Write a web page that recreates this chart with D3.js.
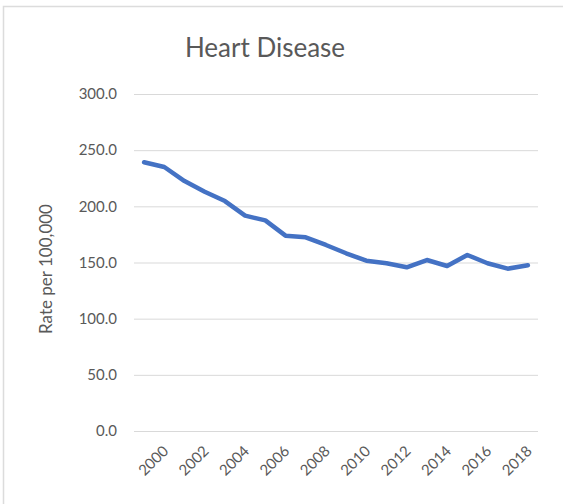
<!DOCTYPE html>
<html>
<head>
  <meta charset="utf-8">
  <script src="https://d3js.org/d3.v7.min.js"></script>
  <style>
    body { margin: 0; background: #fff; }
    text { font-family: Lato, "Open Sans", sans-serif; fill: #595959; }
  </style>
</head>
<body>
  <script type="text/javascript">
    // Chart data
    var years = ["1999", "2000", "2001", "2002", "2003", "2004", "2005", "2006", "2007", "2008",
                 "2009", "2010", "2011", "2012", "2013", "2014", "2015", "2016", "2017", "2018"];
    var rates = [239.2, 235.0, 222.5, 213.0, 204.7, 191.7, 187.5, 173.9, 172.4, 165.6,
                 158.2, 151.6, 149.3, 145.7, 152.2, 146.9, 156.7, 149.3, 144.5, 147.5];
    var yTicks = [0, 50, 100, 150, 200, 250, 300];
    var xLabels = ["2000", "2002", "2004", "2006", "2008", "2010", "2012", "2014", "2016", "2018"];

    var width = 563, height = 504;
    var plot = { left: 134, right: 538, top: 94, bottom: 431 };

    var svg = d3.select("body").append("svg")
      .attr("width", width)
      .attr("height", height);

    // Chart frame (only top and left visible in the picture)
    svg.append("rect")
      .attr("x", 3.5).attr("y", 6.5)
      .attr("width", width + 20).attr("height", height + 20)
      .attr("fill", "#fff")
      .attr("stroke", "#dcdcdc")
      .attr("stroke-width", 1.5);

    // Title
    svg.append("text")
      .attr("x", 265).attr("y", 57)
      .attr("text-anchor", "middle")
      .style("font-size", "26px")
      .text("Heart Disease");

    var x = d3.scaleBand()
      .domain(years)
      .range([plot.left, plot.right]);

    var y = d3.scaleLinear()
      .domain([0, 300])
      .range([plot.bottom, plot.top]);

    // Gridlines + y labels
    var yAxis = d3.axisLeft(y)
      .tickValues(yTicks)
      .tickSize(-(plot.right - plot.left))
      .tickPadding(17)
      .tickFormat(d3.format(".1f"));

    var gy = svg.append("g")
      .attr("transform", "translate(" + plot.left + ",0)")
      .call(yAxis);
    gy.select(".domain").remove();
    gy.selectAll("line").attr("stroke", "#d9d9d9").attr("stroke-width", 1);
    gy.selectAll("text")
      .style("font-size", "15px")
      .style("font-family", "Lato, 'Open Sans', sans-serif")
      .attr("fill", "#595959");

    // X axis labels (every other year)
    var xAxis = d3.axisBottom(x)
      .tickValues(xLabels)
      .tickSize(0)
      .tickPadding(0);

    var gx = svg.append("g")
      .attr("transform", "translate(0," + plot.bottom + ")")
      .call(xAxis);
    gx.select(".domain").remove();
    gx.selectAll("text")
      .style("font-size", "15px")
      .style("font-family", "Lato, 'Open Sans', sans-serif")
      .attr("fill", "#595959")
      .attr("dy", null)
      .attr("y", 0)
      .attr("text-anchor", "end")
      .attr("transform", "translate(5,21) rotate(-45)");

    // Y axis title
    svg.append("text")
      .attr("transform", "translate(52,269) rotate(-90)")
      .attr("text-anchor", "middle")
      .style("font-size", "17px")
      .text("Rate per 100,000");

    // Line
    var line = d3.line()
      .x(function(d, i) { return x(years[i]) + x.bandwidth() / 2; })
      .y(function(d) { return y(d); });

    svg.append("path")
      .datum(rates)
      .attr("fill", "none")
      .attr("stroke", "#4472c4")
      .attr("stroke-width", 4.5)
      .attr("stroke-linejoin", "round")
      .attr("stroke-linecap", "round")
      .attr("d", line);
  </script>
</body>
</html>
